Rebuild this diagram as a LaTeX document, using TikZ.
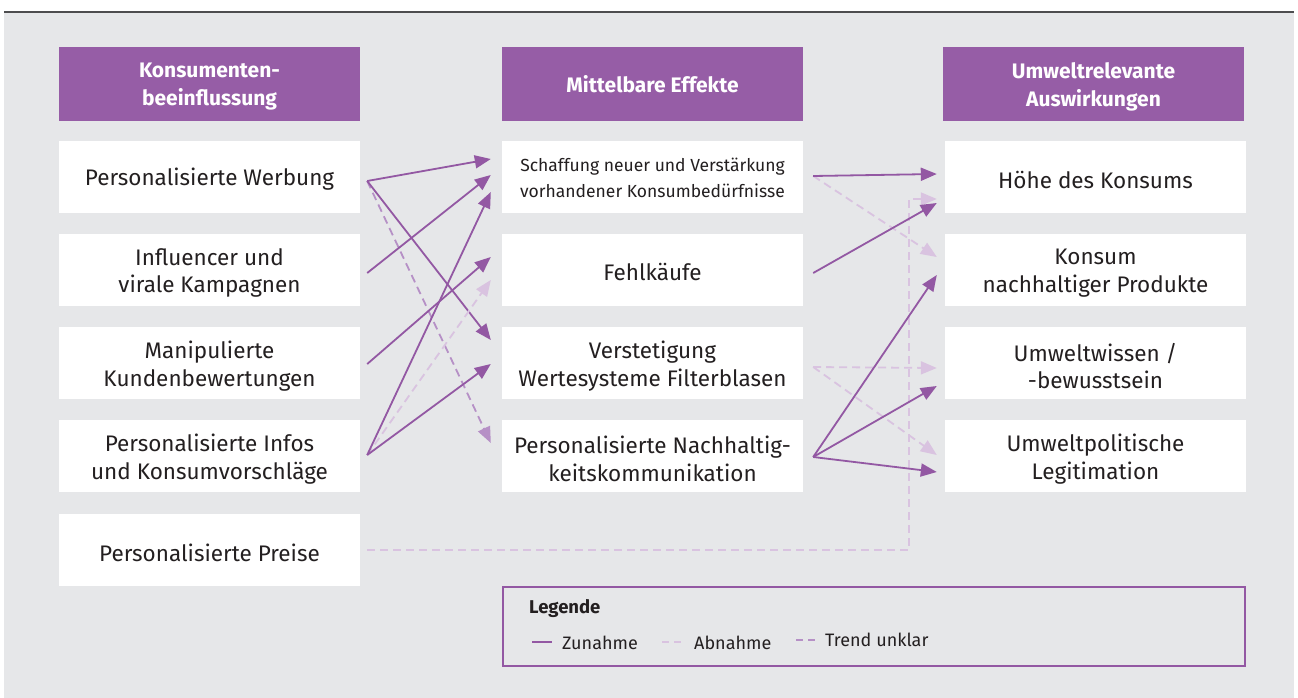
\documentclass[tikz,border=0pt]{standalone}
\usepackage{fontspec}
\setmainfont{Fira Sans}
\usetikzlibrary{arrows.meta,calc}
\definecolor{bggray}{HTML}{E6E7E9}
\definecolor{topline}{HTML}{4D4D4F}
\definecolor{headpurple}{HTML}{965DA6}
\definecolor{incr}{HTML}{9358A3}
\definecolor{decr}{HTML}{D9C3E0}
\definecolor{unclear}{HTML}{B690C6}
\definecolor{ink}{HTML}{231F20}
\tikzset{
  head/.style={fill=headpurple, minimum width=301pt, minimum height=74pt, inner sep=0pt},
  headtext/.style={text=white, align=center, inner sep=0pt, font=\fontsize{21}{28}\selectfont\bfseries},
  item/.style={fill=white, minimum width=301pt, minimum height=72pt, inner sep=0pt},
  itemtext/.style={text=ink, align=center, inner sep=0pt, font=\fontsize{22.5}{27.5}\selectfont},
  smalltext/.style={itemtext, font=\fontsize{17.5}{26}\selectfont},
  tip/.style={-{Triangle[length=16pt,width=13pt]}},
  zunahme/.style={tip, draw=incr, line width=1.8pt},
  abnahme/.style={tip, draw=decr, line width=1.8pt, dash pattern=on 8pt off 5pt},
  unklar/.style={tip, draw=unclear, line width=1.8pt, dash pattern=on 8pt off 5pt},
  legtext/.style={anchor=west, text=ink, inner sep=0pt, font=\fontsize{18}{20}\selectfont},
}
\begin{document}
\begin{tikzpicture}[x=1pt,y=-1pt]
  \useasboundingbox (0,0) rectangle (1298,698);
  \fill[white] (0,0) rectangle (1298,698);
  \fill[bggray] (4,13) rectangle (1294,698);
  \draw[topline, line width=2.2pt] (4,12) -- (1294,12);

  % column headers
  \node[head] (h1) at (209.5,84) {};
  \node[head] (h2) at (652.5,84) {};
  \node[head] (h3) at (1093.5,84) {};
  \node[headtext] (h1t) at ($(h1.center)+(0,3)$) {Konsumenten-\\beeinflussung};
  \node[headtext] (h2t) at ($(h2.center)+(0,0.5)$) {Mittelbare Effekte};
  \node[headtext] (h3t) at ($(h3.center)+(0,3)$) {Umweltrelevante\\Auswirkungen};

  % boxes of the three columns
  \foreach \n/\y in {1/177,2/270,3/363,4/456,5/550}
    \node[item] (l\n) at (209.5,\y) {};
  \foreach \n/\y in {1/177,2/270,3/363,4/456} {
    \node[item] (m\n) at (652.5,\y) {};
    \node[item] (r\n) at (1095.5,\y) {};
  }

  % influencing factors
  \node[itemtext] (l1t) at ($(l1.center)+(0,2.5)$) {Personalisierte Werbung};
  \node[itemtext] (l2t) at ($(l2.center)+(0,3)$) {Influencer und\\virale Kampagnen};
  \node[itemtext] (l3t) at ($(l3.center)+(0,3)$) {Manipulierte\\Kundenbewertungen};
  \node[itemtext] (l4t) at ($(l4.center)+(0,3)$) {Personalisierte Infos\\und Konsumvorschläge};
  \node[itemtext] (l5t) at ($(l5.center)+(0,2.5)$) {Personalisierte Preise};

  % indirect effects
  \node[smalltext] (m1t) at ($(m1.center)+(0,0.5)$) {Schaffung neuer und Verstärkung\\vorhandener Konsumbedürfnisse};
  \node[itemtext] (m2t) at ($(m2.center)+(0,1.5)$) {Fehlkäufe};
  \node[itemtext] (m3t) at ($(m3.center)+(0,3)$) {Verstetigung\\Wertesysteme Filterblasen};
  \node[itemtext] (m4t) at ($(m4.center)+(0,3)$) {Personalisierte Nachhaltig-\\keitskommunikation};

  % environmental impacts
  \node[itemtext] (r1t) at ($(r1.center)+(0,2.5)$) {Höhe des Konsums};
  \node[itemtext] (r2t) at ($(r2.center)+(0,3)$) {Konsum\\nachhaltiger Produkte};
  \node[itemtext] (r3t) at ($(r3.center)+(0,3)$) {Umweltwissen /\\-bewusstsein};
  \node[itemtext] (r4t) at ($(r4.center)+(0,3)$) {Umweltpolitische\\Legitimation};

  % left to middle
  \draw[unklar]  ($(l1.east)+(7,4)$) -- ($(m4.west)+(-11,-13)$);
  \draw[zunahme] ($(l1.east)+(7,4)$) -- ($(m1.west)+(-11,-18)$);
  \draw[zunahme] ($(l1.east)+(7,4)$) -- ($(m3.west)+(-11,-23)$);
  \draw[zunahme] ($(l2.east)+(7,3)$) -- ($(m1.west)+(-11,-2)$);
  \draw[zunahme] ($(l3.east)+(7,1)$) -- ($(m2.west)+(-11,-13)$);
  \draw[abnahme] ($(l4.east)+(7,-1)$) -- ($(m2.west)+(-11,10)$);
  \draw[zunahme] ($(l4.east)+(7,-1)$) -- ($(m1.west)+(-11,15)$);
  \draw[zunahme] ($(l4.east)+(7,-1)$) -- ($(m3.west)+(-11,1)$);

  % personalised prices, routed below the middle column
  \coordinate (bend) at ($(r1.west)+(-36,0)$);
  \draw[abnahme] ($(l5.east)+(7,0)$) -- (l5.east -| bend) -- ($(bend)+(0,22)$) -- ($(r1.west)+(-8,22)$);

  % middle to right
  \draw[abnahme] ($(m1.east)+(10,-1)$) -- ($(r2.west)+(-8,-13)$);
  \draw[zunahme] ($(m1.east)+(10,-1)$) -- ($(r1.west)+(-8,-3)$);
  \draw[zunahme] ($(m2.east)+(10,3)$) -- ($(r1.west)+(-8,26)$);
  \draw[abnahme] ($(m3.east)+(10,4)$) -- ($(r3.west)+(-8,5)$);
  \draw[abnahme] ($(m3.east)+(10,4)$) -- ($(r4.west)+(-8,-1)$);
  \draw[zunahme] ($(m4.east)+(10,1)$) -- ($(r2.west)+(-8,5)$);
  \draw[zunahme] ($(m4.east)+(10,1)$) -- ($(r3.west)+(-8,23)$);
  \draw[zunahme] ($(m4.east)+(10,1)$) -- ($(r4.west)+(-8,16)$);

  % legend
  \node[draw=incr, line width=2pt, minimum width=742pt, minimum height=79pt, inner sep=0pt] (leg) at (874,626.5) {};
  \node[anchor=base west, text=ink, inner sep=0pt, font=\fontsize{18.5}{20}\selectfont\bfseries] (legt) at ($(leg.north west)+(27,27)$) {Legende};
  \draw[incr, line width=1.8pt] ($(leg.north west)+(30,56)$) coordinate (k1) -- ++(20,0);
  \node[legtext] (kt1) at ($(leg.north west)+(60,57)$) {Zunahme};
  \draw[decr, line width=1.8pt, dash pattern=on 7pt off 5pt] ($(leg.north west)+(160,56)$) coordinate (k2) -- ++(20,0);
  \node[legtext] (kt2) at ($(leg.north west)+(192,57)$) {Abnahme};
  \draw[unclear, line width=1.8pt, dash pattern=on 7pt off 5pt] ($(leg.north west)+(294,54)$) coordinate (k3) -- ++(20,0);
  \node[legtext] (kt3) at ($(leg.north west)+(323,54)$) {Trend unklar};
\end{tikzpicture}
\end{document}
